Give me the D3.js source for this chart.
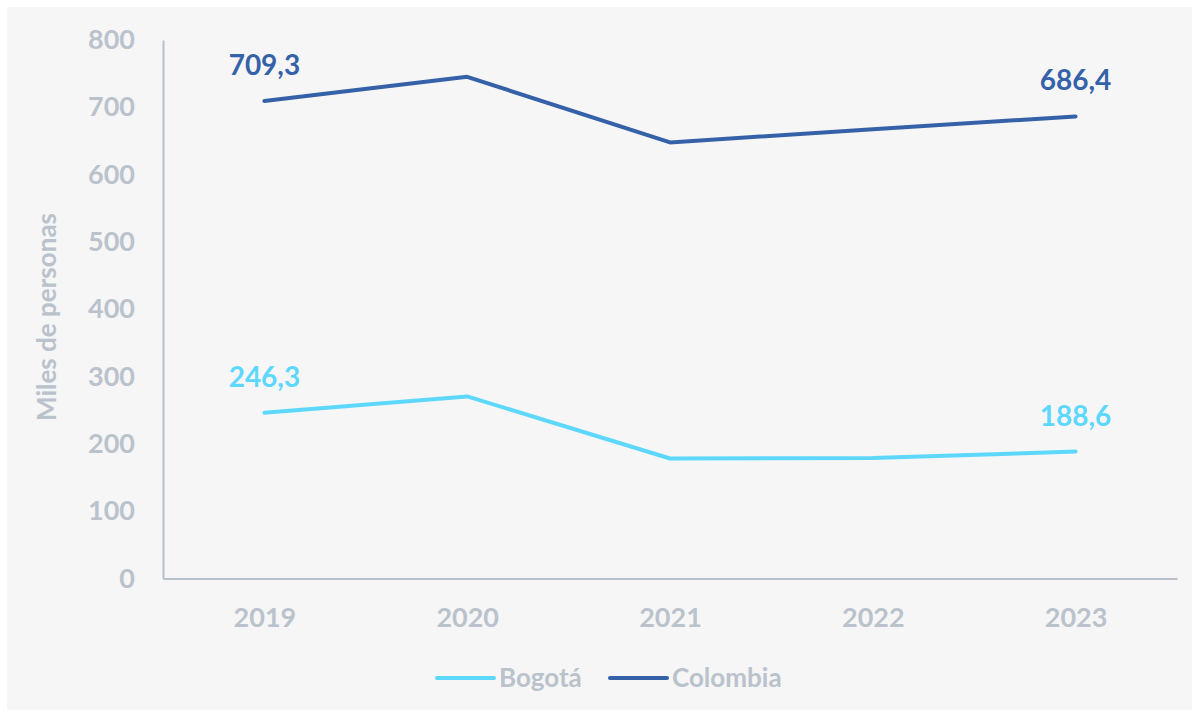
<!DOCTYPE html>
<html>
<head>
<meta charset="utf-8">
<script src="https://cdn.jsdelivr.net/npm/d3@7"></script>
<style>
  body { margin: 0; background: #ffffff; }
  #canvas { width: 1199px; height: 717px; }
  text { font-family: Lato, "Open Sans", sans-serif; font-weight: 700; }
</style>
</head>
<body>
<div id="canvas"></div>
<script>
// data
var years = ["2019", "2020", "2021", "2022", "2023"];
var bogota = [246.3, 270.5, 178.3, 179.0, 188.6];
var colombia = [709.3, 745.3, 647.8, 667.5, 686.4];
var yTicks = [0, 100, 200, 300, 400, 500, 600, 700, 800];
var seriesNames = ["Bogotá", "Colombia"];
var seriesColors = ["#5dd8fc", "#3561a9"];

var W = 1199, H = 717;
var margin = {top: 40, right: 22, bottom: 138.5, left: 163};
var width = W - margin.left - margin.right,
    height = H - margin.top - margin.bottom;

var svg = d3.select("#canvas")
  .append("svg")
  .attr("width", W)
  .attr("height", H);

// panel background
svg.append("rect")
  .attr("x", 7).attr("y", 7)
  .attr("width", 1185).attr("height", 703)
  .attr("fill", "#f6f6f6");

var g = svg.append("g")
  .attr("transform", "translate(" + margin.left + "," + margin.top + ")");

var x = d3.scalePoint()
  .domain(years)
  .range([0, width])
  .padding(0.5);

var y = d3.scaleLinear()
  .domain([0, 800])
  .range([height, 0]);

var axisColor = "#b7bfc9";
var labelColor = "#bac2cc";

// Y axis
var yAxis = g.append("g")
  .call(d3.axisLeft(y).tickValues(yTicks).tickSize(0).tickPadding(28));
yAxis.select(".domain").attr("stroke", axisColor).attr("stroke-width", 2);
yAxis.selectAll("text")
  .attr("fill", labelColor)
  .style("font-size", "27px");

// X axis
var xAxis = g.append("g")
  .attr("transform", "translate(0," + height + ")")
  .call(d3.axisBottom(x).tickSize(0).tickPadding(29));
xAxis.select(".domain").attr("stroke", axisColor).attr("stroke-width", 2);
xAxis.selectAll("text")
  .attr("fill", labelColor)
  .style("font-size", "27px");

// Y axis title
svg.append("text")
  .attr("transform", "translate(56,317) rotate(-90)")
  .attr("text-anchor", "middle")
  .attr("fill", labelColor)
  .style("font-size", "26px")
  .text("Miles de personas");

var line = d3.line()
  .x(function (d, i) { return x(years[i]); })
  .y(function (d) { return y(d); });

var series = [bogota, colombia];

series.forEach(function (vals, s) {
  g.append("path")
    .datum(vals)
    .attr("fill", "none")
    .attr("stroke", seriesColors[s])
    .attr("stroke-width", 4)
    .attr("stroke-linecap", "round")
    .attr("stroke-linejoin", "round")
    .attr("d", line);

  // labels on first and last point
  [0, vals.length - 1].forEach(function (i) {
    g.append("text")
      .attr("x", x(years[i]))
      .attr("y", y(vals[i]) - 26)
      .attr("text-anchor", "middle")
      .attr("fill", seriesColors[s])
      .style("font-size", "28px")
      .text(d3.format(".1f")(vals[i]).replace(".", ","));
  });
});

// legend
var legendX = [437, 610];
seriesNames.forEach(function (name, s) {
  var lg = svg.append("g").attr("transform", "translate(" + legendX[s] + ",678)");
  lg.append("line")
    .attr("x1", 0).attr("x2", 57)
    .attr("stroke", seriesColors[s])
    .attr("stroke-width", 4)
    .attr("stroke-linecap", "round");
  lg.append("text")
    .attr("x", 62)
    .attr("y", 9)
    .attr("fill", labelColor)
    .style("font-size", "26px")
    .text(name);
});
</script>
</body>
</html>
